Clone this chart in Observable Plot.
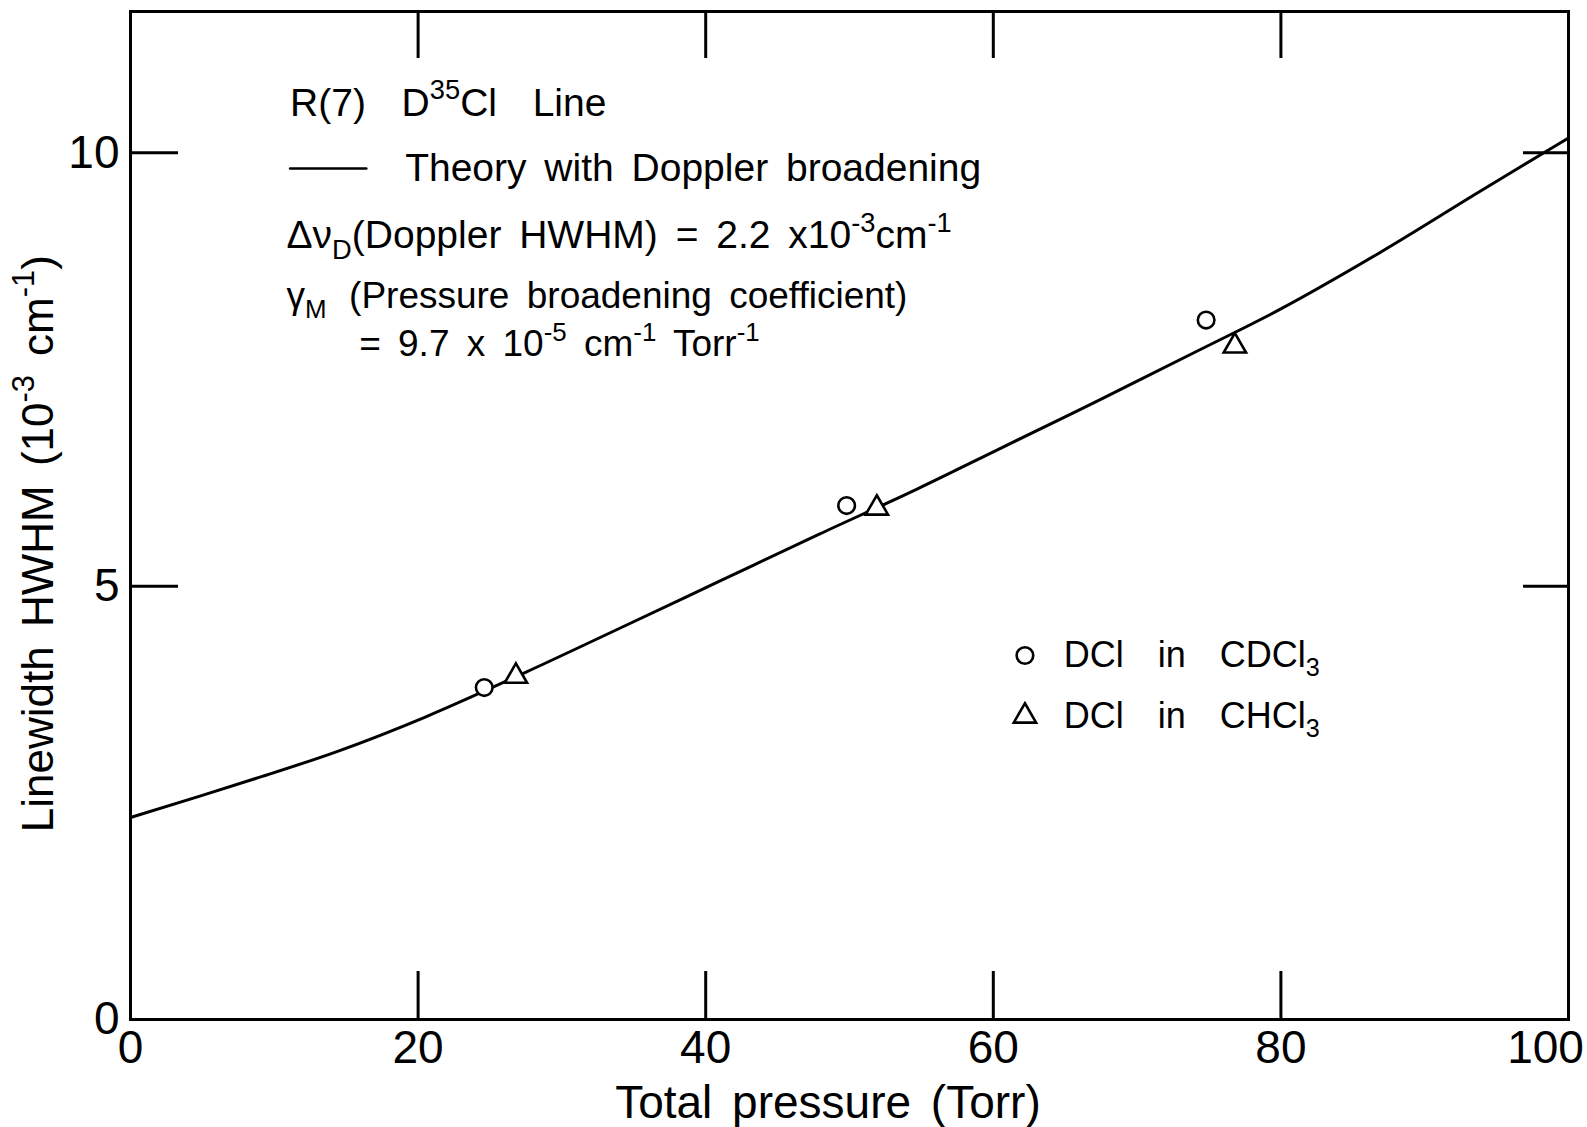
<!DOCTYPE html>
<html><head><meta charset="utf-8">
<script src="https://cdn.jsdelivr.net/npm/d3@7"></script>
<script src="https://cdn.jsdelivr.net/npm/@observablehq/plot@0.6"></script>
<style>
html,body{margin:0;padding:0;background:#fff;}
svg text{font-family:"Liberation Sans", Arial, sans-serif; word-spacing:7px;}
</style></head><body><div id="chart"></div>
<script>
// Theory curve
const curvePressure = [0, 8.7, 14.5, 20.5, 27.4, 34.1, 41.0, 47.9, 54.7, 60.5, 67.4, 74.4, 79.9, 86.9, 93.8, 100];
const curveHWHM     = [2.33, 2.78, 3.10, 3.49, 4.00, 4.52, 5.06, 5.60, 6.12, 6.59, 7.15, 7.73, 8.19, 8.85, 9.55, 10.17];
// DCl in CDCl3 (circles)
const cdcl3Pressure = [24.6, 49.8, 74.8];
const cdcl3HWHM     = [3.83, 5.93, 8.07];
// DCl in CHCl3 (triangles)
const chcl3Pressure = [26.8, 51.9, 76.8];
const chcl3HWHM     = [3.96, 5.90, 7.77];
// ticks
const xTickValues = [0, 20, 40, 60, 80, 100];
const yTickValues = [0, 5, 10];
const xInnerTicks = [20, 40, 60, 80];
const yInnerTicks = [5, 10];

const curve = curvePressure.map((p, i) => ({p, w: curveHWHM[i]}));
const circles = cdcl3Pressure.map((p, i) => ({p, w: cdcl3HWHM[i]}));
const triangles = chcl3Pressure.map((p, i) => ({p, w: chcl3HWHM[i]}));

// annotation layout (data coordinates)
const notes = [
  {x: 11.1, y: 10.57, t: "R(7)  D^{35}Cl  Line", fs: 39},
  {x: 19.1, y: 9.82, t: "Theory with Doppler broadening", fs: 39},
  {x: 10.85, y: 9.04, t: "Δν_{D}(Doppler HWHM) = 2.2 x10^{-3}cm^{-1}", fs: 39},
  {x: 10.85, y: 8.34, t: "γ_{M}", fs: 37},
  {x: 15.2, y: 8.34, t: "(Pressure broadening coefficient)", fs: 37},
  {x: 15.9, y: 7.79, t: "= 9.7 x 10^{-5} cm^{-1} Torr^{-1}", fs: 37}
];
const keyLine = [{p: 11.1, w: 9.82}, {p: 16.4, w: 9.82}];
const legendItems = [
  {x: 62.2, y: 4.20, tx: 64.9, t: "DCl  in  CDCl_{3}", symbol: "circle"},
  {x: 62.2, y: 3.50, tx: 64.9, t: "DCl  in  CHCl_{3}", symbol: "triangle"}
];

const W = 1587, H = 1127, ML = 130, MR = 19, MT = 11, MB = 108;
const FW = W - ML - MR, FH = H - MT - MB;

const chart = Plot.plot({
  width: W, height: H,
  marginLeft: ML, marginRight: MR, marginTop: MT, marginBottom: MB,
  style: {background: "#fff", color: "#000", fontFamily: "Liberation Sans, Arial, sans-serif"},
  x: {domain: [0, 100]},
  y: {domain: [0, 11.63]},
  marks: [
    Plot.frame({stroke: "#000", strokeWidth: 3}),
    // inward ticks on all four sides
    Plot.tickX(xInnerTicks, {x: d => d, insetTop: FH - 48, stroke: "#000", strokeWidth: 3}),
    Plot.tickX(xInnerTicks, {x: d => d, insetBottom: FH - 47, stroke: "#000", strokeWidth: 3}),
    Plot.tickY(yInnerTicks, {y: d => d, insetRight: FW - 48, stroke: "#000", strokeWidth: 3}),
    Plot.tickY(yInnerTicks, {y: d => d, insetLeft: FW - 45, stroke: "#000", strokeWidth: 3}),
    Plot.axisX(xTickValues.slice(0, -1), {tickSize: 0, tickPadding: 11, fontSize: 46, label: null, tickFormat: d => String(d)}),
    Plot.axisX(xTickValues.slice(-1), {tickSize: 0, tickPadding: 11, fontSize: 46, label: null, dx: -23, tickFormat: d => String(d)}),
    Plot.axisY(yTickValues, {tickSize: 0, tickPadding: 11, fontSize: 46, label: null, tickFormat: d => String(d)}),
    // axis titles
    Plot.text(["Total pressure (Torr)"], {x: () => 48.5, y: () => -0.97, text: d => d, fontSize: 46, textAnchor: "middle"}),
    Plot.text(["Linewidth HWHM (10^{-3} cm^{-1})"], {x: () => -6.4, y: () => 5.49, text: d => d, fontSize: 44, rotate: -90, textAnchor: "middle"}),
    // theory curve
    Plot.line(curve, {x: "p", y: "w", curve: "catmull-rom", stroke: "#000", strokeWidth: 3}),
    // data
    Plot.dot(circles, {x: "p", y: "w", symbol: "circle", r: 8.3, stroke: "#000", strokeWidth: 2.6, fill: "#fff"}),
    Plot.dot(triangles, {x: "p", y: "w", symbol: "triangle", r: 8.3, stroke: "#000", strokeWidth: 2.6, fill: "#fff"}),
    // annotations
    Plot.line(keyLine, {x: "p", y: "w", stroke: "#000", strokeWidth: 2.5}),
    Plot.text(notes, {x: "x", y: "y", text: "t", fontSize: "fs", textAnchor: "start"}),
    // legend
    Plot.dot(legendItems, {x: "x", y: "y", symbol: "symbol", r: 8.3, stroke: "#000", strokeWidth: 2.6, fill: "#fff"}),
    Plot.text(legendItems, {x: "tx", y: "y", text: "t", fontSize: 36, textAnchor: "start"})
  ]
});
document.getElementById("chart").appendChild(chart);

// render ^{..} and _{..} as superscript / subscript tspans
const NS = "http://www.w3.org/2000/svg";
chart.querySelectorAll("text").forEach(t => {
  const s = t.textContent;
  if (!/[\^_]\{/.test(s)) return;
  const fs = parseFloat(getComputedStyle(t).fontSize) || 39;
  while (t.firstChild) t.removeChild(t.firstChild);
  const re = /([\^_])\{([^}]*)\}/g;
  let last = 0, m, shift = 0;
  const add = (str, kind) => {
    if (!str) return;
    const ts = document.createElementNS(NS, "tspan");
    ts.textContent = str;
    const target = kind === "^" ? -0.42 * fs : kind === "_" ? 0.26 * fs : 0;
    if (target - shift !== 0) ts.setAttribute("dy", (target - shift).toFixed(2));
    shift = target;
    if (kind) ts.setAttribute("font-size", (0.7 * fs).toFixed(1));
    t.appendChild(ts);
  };
  while ((m = re.exec(s))) {
    add(s.slice(last, m.index), null);
    add(m[2], m[1]);
    last = re.lastIndex;
  }
  add(s.slice(last), null);
});
</script></body></html>
